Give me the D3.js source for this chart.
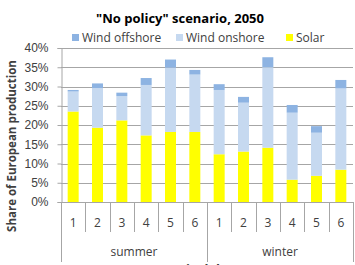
<!DOCTYPE html>
<html>
<head>
<meta charset="utf-8">
<script src="https://cdn.jsdelivr.net/npm/d3@7"></script>
<style>
body { margin: 0; background: #fff; }
svg { font-family: "Open Sans", Lato, sans-serif; display: block; }
</style>
</head>
<body>
<div id="chart"></div>
<script>
// values (share in %)
var periods = ["1","2","3","4","5","6","1","2","3","4","5","6"];
var seasons = ["summer","winter"];
var solar    = [23.5,19.3,21.2,17.3,18.2,18.2,12.4,13.1,14.1,5.8,6.8,8.4];
var onshore  = [5.2,10.3,6.3,13.1,16.7,14.9,16.7,12.7,20.9,17.4,11.2,21.1];
var offshore = [0.4,1.2,0.9,1.8,2.1,1.2,1.5,1.5,2.6,2.0,1.7,2.2];
var yTicks = [0,5,10,15,20,25,30,35,40];

var W = 355, H = 265;
var mLeft = 61, mRight = 353, mTop = 48, mBottom = 202;

var svg = d3.select("#chart").append("svg")
  .attr("width", W).attr("height", H);

var keys = ["solar","onshore","offshore"];
var colors = {solar:"#ffff00", onshore:"#c6d9f0", offshore:"#8db3e2"};
var names = {solar:"Solar", onshore:"Wind onshore", offshore:"Wind offshore"};

var table = periods.map(function(p,i){
  return {i:i, solar:solar[i], onshore:onshore[i], offshore:offshore[i]};
});

var x = d3.scaleBand().domain(d3.range(periods.length)).range([mLeft,mRight]).paddingInner(0).paddingOuter(0);
var y = d3.scaleLinear().domain([0,40]).range([mBottom,mTop]);

// gridlines
svg.append("g").selectAll("line").data(yTicks).enter().append("line")
  .attr("x1", mLeft).attr("x2", mRight)
  .attr("y1", function(d){ return Math.round(y(d))+0.5; })
  .attr("y2", function(d){ return Math.round(y(d))+0.5; })
  .attr("stroke", "#a6a6a6").attr("stroke-width", 1);

// y axis
var yAxis = svg.append("g").attr("transform","translate(" + (mLeft+0.5) + ",0)")
  .call(d3.axisLeft(y).tickValues(yTicks).tickSize(4).tickFormat(function(d){ return d + "%"; }));
yAxis.select(".domain").attr("stroke","#a6a6a6");
yAxis.selectAll(".tick line").attr("stroke","#a6a6a6");
yAxis.selectAll("text").attr("fill","#404040").attr("font-size","12px").attr("x",-13);

// stacked bars
var stack = d3.stack().keys(keys)(table);
var bw = 11;
svg.append("g").selectAll("g").data(stack).enter().append("g")
  .attr("fill", function(d){ return colors[d.key]; })
  .selectAll("rect").data(function(d){ return d; }).enter().append("rect")
  .attr("x", function(d,i){ return x(i) + (x.bandwidth()-bw)/2; })
  .attr("width", bw)
  .attr("y", function(d){ return y(d[1]); })
  .attr("height", function(d){ return y(d[0]) - y(d[1]); });

// x axis (two levels)
var xg = svg.append("g");
xg.append("line").attr("x1",mLeft).attr("x2",mRight)
  .attr("y1",mBottom+0.5).attr("y2",mBottom+0.5).attr("stroke","#a6a6a6");
xg.selectAll("line.tk").data(d3.range(periods.length+1)).enter().append("line")
  .attr("class","tk")
  .attr("x1", function(i){ return Math.round(mLeft + i*x.step())+0.5; })
  .attr("x2", function(i){ return Math.round(mLeft + i*x.step())+0.5; })
  .attr("y1", mBottom)
  .attr("y2", function(i){ return i % 6 === 0 ? 262 : 232; })
  .attr("stroke","#a6a6a6");
xg.selectAll("text.per").data(periods).enter().append("text")
  .attr("class","per")
  .attr("x", function(d,i){ return x(i) + x.bandwidth()/2; })
  .attr("y", 227).attr("text-anchor","middle")
  .attr("font-size","12px").attr("fill","#404040")
  .text(function(d){ return d; });
xg.selectAll("text.sea").data(seasons).enter().append("text")
  .attr("class","sea")
  .attr("x", function(d,i){ return mLeft + (i*6+3)*x.step(); })
  .attr("y", 256).attr("text-anchor","middle")
  .attr("font-size","12px").attr("fill","#404040")
  .text(function(d){ return d; });

// axis titles (the x title is cut by the bottom edge, as in the source)
svg.append("text").attr("x", 199).attr("y", 274).attr("text-anchor","middle")
  .attr("font-size","13px").attr("font-weight","bold").attr("fill","#404040")
  .text("Typical day");
svg.append("text").attr("transform","translate(16,146) rotate(-90)")
  .attr("text-anchor","middle").attr("font-size","11.5px").attr("font-weight","bold")
  .attr("fill","#404040").text("Share of European production");

// title
svg.append("text").attr("x", 180).attr("y", 23).attr("text-anchor","middle")
  .attr("font-size","13px").attr("font-weight","bold").attr("fill","#000")
  .text("\"No policy\" scenario, 2050");

// legend
var legendKeys = ["offshore","onshore","solar"];
var legendX = [72, 176, 286];
var lg = svg.append("g").selectAll("g").data(legendKeys).enter().append("g")
  .attr("transform", function(d,i){ return "translate(" + legendX[i] + ",34)"; });
lg.append("rect").attr("width",7).attr("height",7).attr("fill", function(d){ return colors[d]; });
lg.append("text").attr("x",10).attr("y",7.5).attr("font-size","12px").attr("fill","#404040")
  .text(function(d){ return names[d]; });
</script>
</body>
</html>
